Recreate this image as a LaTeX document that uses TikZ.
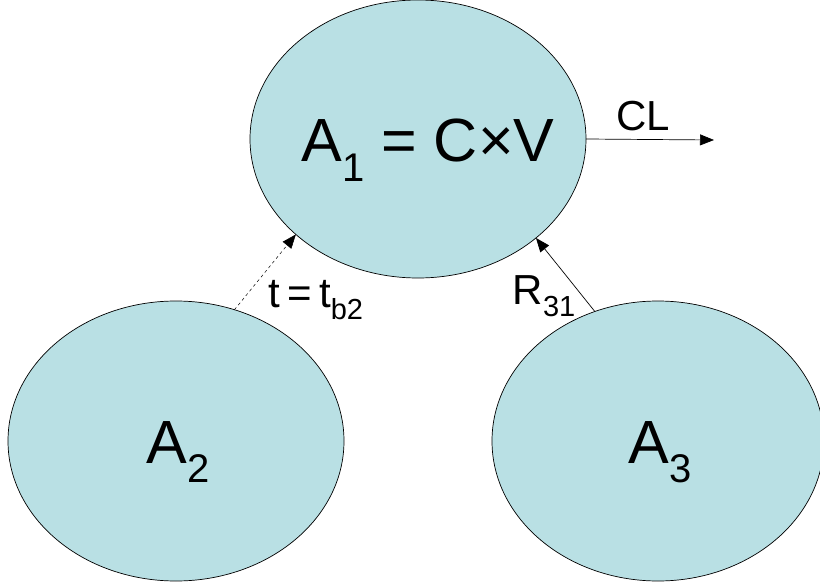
\documentclass[tikz,border=0pt]{standalone}
\usepackage{fontspec}
\setmainfont{Liberation Sans}
\usetikzlibrary{shapes.geometric,arrows.meta}
\definecolor{cellfill}{RGB}{185,224,228}
\newcommand{\lowsub}[2]{#1\raisebox{-0.32em}{\fontsize{40}{40}\selectfont #2}}
\newcommand{\lblsub}[2]{#1\raisebox{-0.3em}{\fontsize{29}{29}\selectfont #2}}
\begin{document}
\begin{tikzpicture}[x=1pt,y=-1pt,
  blob/.style={ellipse,draw=black,line width=0.7pt,fill=cellfill,inner sep=0pt,outer sep=0pt},
  bigtext/.style={font=\fontsize{61}{61}\selectfont,inner sep=0pt},
  lbl/.style={font=\fontsize{42}{42}\selectfont,inner sep=0pt},
  conn/.style={line width=0.7pt,-{Triangle[length=14pt,width=11pt]}}]
\useasboundingbox (0,0) rectangle (820,586);
\node[blob,minimum width=336pt,minimum height=278pt] (A1) at (418,139) {};
\node[blob,minimum width=336pt,minimum height=280pt] (A2) at (176,441) {};
\node[blob,minimum width=332pt,minimum height=280pt] (A3) at (658,441) {};
\node[bigtext] (A1t) at (428,150) {\lowsub{A}{1} = C\texttimes V};
\node[bigtext] (A2t) at (178,452) {\lowsub{A}{2}};
\node[bigtext] (A3t) at (660,452) {\lowsub{A}{3}};
\coordinate (clend) at (714,140);
\draw[conn] (A1.east) -- (clend);
\draw[conn,dashed,line width=0.5pt] (A2.66) -- (A1.218.5);
\draw[conn] (A3.116.2) -- (A1.320.8);
\node[lbl] (cl) at (643,116) {CL};
\node[lbl] (tb) at (316,300) {t\,=\,\lblsub{t}{b2}};
\node[lbl] (r31) at (544,296) {\lblsub{R}{31}};
\end{tikzpicture}
\end{document}
